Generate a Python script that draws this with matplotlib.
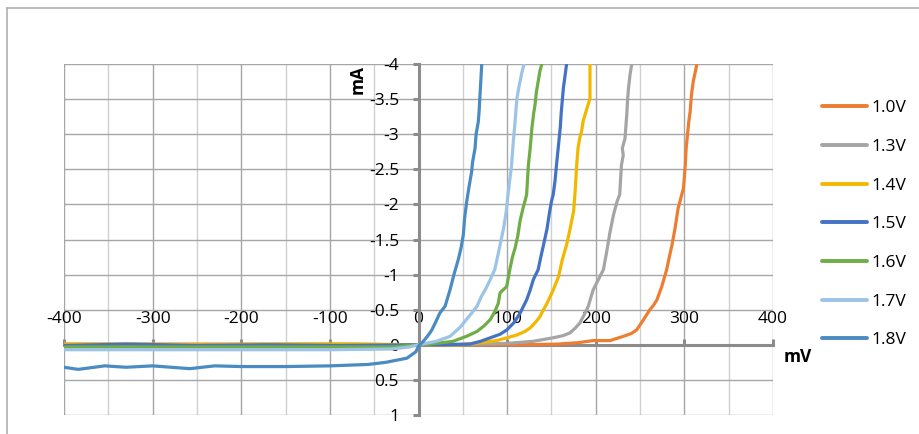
import matplotlib
matplotlib.use("Agg")
import matplotlib.pyplot as plt
from matplotlib.ticker import MultipleLocator, FuncFormatter
from matplotlib.lines import Line2D

plt.rcParams['font.family'] = ['Open Sans', 'DejaVu Sans']
plt.rcParams['axes.unicode_minus'] = False

labels = ["1.0V", "1.3V", "1.4V", "1.5V", "1.6V", "1.7V", "1.8V"]
colors = ["#ED7D31", "#A5A5A5", "#F2B800", "#4472C4", "#70AD47", "#9DC3E6", "#4A8BC2"]

mv_10 = [-400, -330, -250, -150, -80, 0, 60, 114.6, 157, 180, 197, 216, 231, 240, 246, 254, 261, 265, 269, 274.5,
         280, 283, 286, 289.5, 293, 295, 297, 299, 301, 302, 305, 306.5, 308, 310, 314]
ma_10 = [-0.01, -0.01, -0.01, -0.01, -0.01, 0.0, 0.0, 0.0, -0.01, -0.03, -0.06, -0.06, -0.12, -0.16, -0.21, -0.36, -0.5, -0.56, -0.64, -0.83,
         -1.07, -1.25, -1.42, -1.66, -1.95, -2.04, -2.14, -2.23, -2.56, -2.80, -3.18, -3.32, -3.56, -3.75, -3.99]

mv_13 = [-400, -300, -200, -100, 0, 60, 100, 129.6, 152, 163, 171, 177, 182, 187, 191.6, 197, 203, 208.6, 212, 216,
         220, 224, 227, 229, 231, 230, 233, 235, 236, 237, 238.7, 240.5]
ma_13 = [0.01, 0.01, 0.01, 0.01, 0.0, -0.01, -0.02, -0.05, -0.1, -0.13, -0.17, -0.24, -0.31, -0.43, -0.55, -0.78, -0.93, -1.07, -1.3, -1.6,
         -1.85, -2.04, -2.14, -2.56, -2.70, -2.80, -2.94, -3.28, -3.5, -3.66, -3.85, -3.99]

mv_14 = [-400, -320, -240, -160, -80, 0, 47, 70, 88, 100, 111, 120, 126, 132, 137, 141, 145, 152, 158, 162,
         167, 171, 175, 176.5, 178.5, 180, 182, 184, 186, 188, 193.5, 193.5]
ma_14 = [-0.01, -0.01, 0.0, -0.01, -0.01, 0.0, 0.0, -0.03, -0.06, -0.1, -0.14, -0.19, -0.24, -0.32, -0.4, -0.5, -0.59, -0.78, -0.97, -1.2,
         -1.42, -1.65, -1.9, -2.14, -2.56, -2.8, -2.95, -3.04, -3.2, -3.28, -3.51, -3.99]

mv_15 = [-400, -330, -250, -170, -90, 0, 28, 58, 70, 81, 92, 99.5, 108, 114.6, 122, 126, 129.6, 135, 138, 141,
         145, 148, 150, 152, 154, 156, 158, 160, 161, 163.5, 165, 167]
ma_15 = [0.01, -0.01, 0.01, 0.0, 0.01, 0.0, 0.0, -0.01, -0.05, -0.1, -0.15, -0.21, -0.32, -0.45, -0.64, -0.78, -0.93, -1.07, -1.25, -1.42,
         -1.65, -1.9, -2.04, -2.14, -2.33, -2.6, -2.85, -3.1, -3.3, -3.66, -3.8, -3.99]

mv_16 = [-400, -300, -200, -100, -30, 0, 13, 39, 54, 66, 74, 81, 86, 90, 92, 99.5, 103, 106, 109, 112,
         114.5, 118, 120, 122, 124, 126, 128, 130, 131.5, 133, 135, 137, 139]
ma_16 = [0.03, 0.03, 0.03, 0.03, 0.03, 0.0, -0.01, -0.05, -0.12, -0.19, -0.27, -0.36, -0.47, -0.59, -0.74, -0.83, -1.07, -1.25, -1.38, -1.55,
         -1.76, -1.95, -2.04, -2.14, -2.56, -2.8, -3.09, -3.3, -3.42, -3.6, -3.75, -3.9, -3.99]

mv_17 = [-400, -300, -200, -100, -30, -10, 0, 20, 35.5, 47, 54, 60, 66, 71, 76, 81, 86, 90, 96, 99,
         101, 103, 105, 107, 109, 111, 114.5, 117, 119]
ma_17 = [0.07, 0.07, 0.07, 0.07, 0.06, 0.03, 0.0, -0.05, -0.12, -0.25, -0.36, -0.45, -0.55, -0.69, -0.8, -0.93, -1.07, -1.3, -1.66, -1.9,
         -2.14, -2.35, -2.56, -2.9, -3.18, -3.51, -3.75, -3.9, -3.99]

mv_18 = [-400, -384, -354, -330, -300, -258, -230, -200, -150, -100, -57, -37, -13, -3, 0, 5.4, 10, 15, 20, 24,
         30, 35.5, 40, 45, 48, 50.6, 52, 54.4, 57, 60, 61, 63.8, 65, 67.5, 68.5, 69.4, 70.5, 71.3]
ma_18 = [0.32, 0.35, 0.30, 0.32, 0.30, 0.34, 0.30, 0.31, 0.31, 0.30, 0.28, 0.25, 0.19, 0.1, 0.02, -0.05, -0.12, -0.21, -0.34, -0.45,
         -0.55, -0.78, -1.0, -1.22, -1.38, -1.57, -1.8, -2.04, -2.25, -2.47, -2.6, -2.8, -3.0, -3.18, -3.35, -3.56, -3.8, -3.99]

series_mv = [mv_10, mv_13, mv_14, mv_15, mv_16, mv_17, mv_18]
series_ma = [ma_10, ma_13, ma_14, ma_15, ma_16, ma_17, ma_18]

W, H = 920, 434
fig = plt.figure(figsize=(W / 100, H / 100), dpi=100)
ax = fig.add_axes([64 / W, 1 - 415 / H, (773 - 64) / W, (415 - 64) / H])

for mv, ma, lab, col in zip(series_mv, series_ma, labels, colors):
    ax.plot(mv, ma, color=col, lw=2.3, label=lab, solid_joinstyle='round', solid_capstyle='round', zorder=3)

ax.set_xlim(-400, 400)
ax.set_ylim(1, -4)
ax.xaxis.set_major_locator(MultipleLocator(100))
ax.xaxis.set_minor_locator(MultipleLocator(50))
ax.yaxis.set_major_locator(MultipleLocator(0.5))
fmt = FuncFormatter(lambda v, p: "%g" % v)
ax.xaxis.set_major_formatter(fmt)
ax.yaxis.set_major_formatter(fmt)

ax.grid(True, which='major', color='#a6a6a6', lw=1.0, zorder=0)
ax.grid(True, which='minor', axis='x', color='#d0d0d0', lw=1.0, zorder=0)
ax.set_axisbelow(True)

for s in ['top', 'right']:
    ax.spines[s].set_visible(False)
ax.spines['left'].set_position(('data', 0))
ax.spines['bottom'].set_position(('data', 0))
for s in ['left', 'bottom']:
    ax.spines[s].set_color('#8c8c8c')
    ax.spines[s].set_linewidth(2.2)
    ax.spines[s].set_zorder(2)

ax.tick_params(axis='x', which='major', direction='in', length=4, width=2.2, color='#8c8c8c',
               pad=-24, labelsize=12.5, labelcolor='#000000')
ax.tick_params(axis='x', which='minor', length=0)
ax.tick_params(axis='y', which='major', direction='out', length=4.5, width=2.2, color='#8c8c8c',
               pad=9.5, labelsize=12.5, labelcolor='#000000')

fig.text(358 / W, 1 - 80 / H, "mA", rotation=90, fontsize=12.5, fontweight='bold', ha='center', va='center')
fig.text(798 / W, 1 - 357 / H, "mV", fontsize=12.5, fontweight='bold', ha='center', va='center')

leg = fig.legend(loc='upper left', bbox_to_anchor=(822 / W, 1 - 100 / H), frameon=False, fontsize=12.5,
                 handlelength=2.6, handletextpad=0.25, labelspacing=1.3, borderaxespad=0, borderpad=0)
for h in leg.legend_handles:
    h.set_linewidth(2.8)

fig.add_artist(Line2D([7 / W, 1.0], [1 - 8 / H, 1 - 8 / H], color='#b0b0b0', lw=1.2))
fig.add_artist(Line2D([7 / W, 7 / W], [0, 1 - 8 / H], color='#b0b0b0', lw=1.2))

fig.savefig("out.png", dpi=100)
